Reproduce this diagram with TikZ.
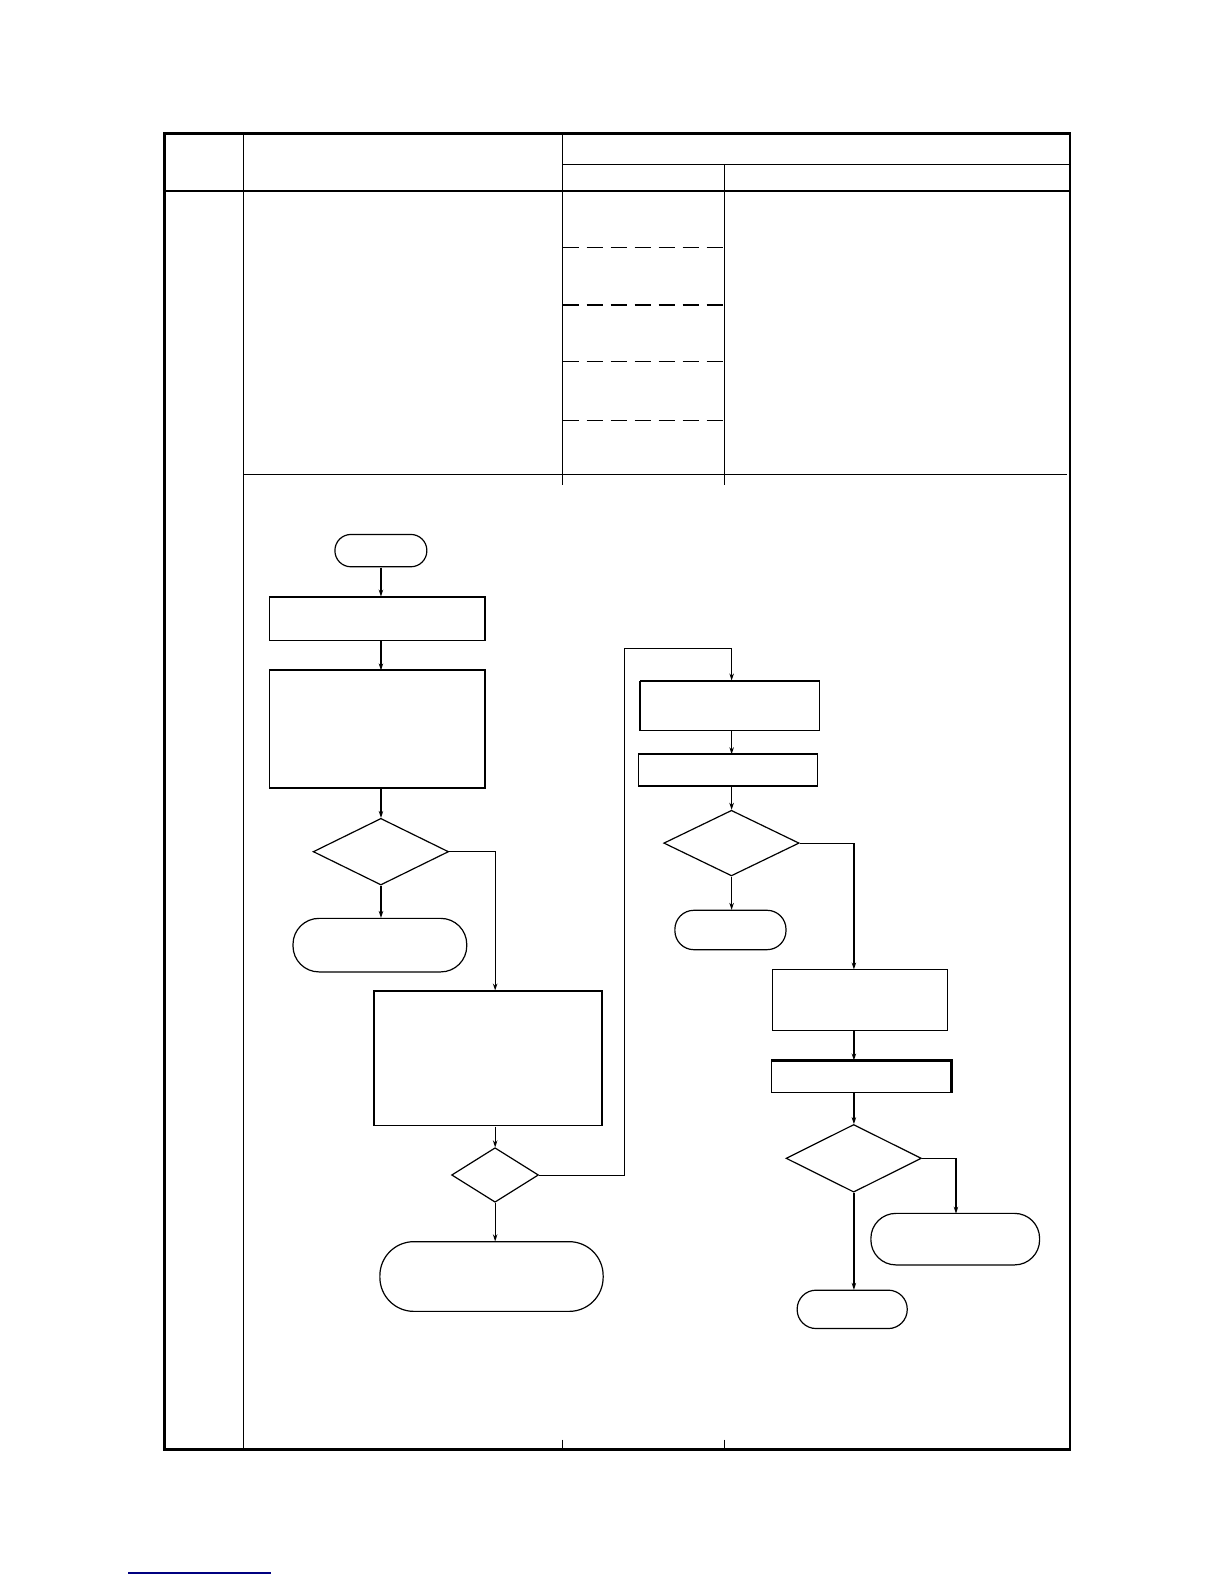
\documentclass[tikz,border=0pt]{standalone}
\usetikzlibrary{shapes.geometric,arrows.meta}
\begin{document}
\begin{tikzpicture}[x=1pt,y=-1pt,
  lw/.style={line width=1.2pt},
  procbox/.style={draw,lw,rectangle,inner sep=0pt},
  term/.style={draw,lw,rectangle,inner sep=0pt},
  decide/.style={draw,lw,diamond,inner sep=0pt},
  flow/.style={lw,-{Stealth[length=7pt,width=4.5pt]}},
  frame/.style={line width=2.6pt},
  rule/.style={line width=1.3pt},
  heavy/.style={line width=2.2pt},
  dashrule/.style={line width=1.3pt,dash pattern=on 16pt off 8pt}]
\useasboundingbox (0pt,0pt) rectangle (1224pt,-1584pt);
\fill[white] (0pt,0pt) rectangle (1224pt,-1584pt);
\begin{scope}[scale=1.0103,transform shape]
% table frame
\draw[frame] (163,132) rectangle (1059,1435);
\draw[rule] (241,132) -- (241,1435);
\draw[rule] (557,132) -- (557,470);
\draw[rule] (717,163) -- (717,470);
\draw[rule] (557,163) -- (1059,163);
\draw[rule] (163,189) -- (1059,189);
\draw[rule] (241,470) -- (1056,470);
\draw[rule] (557,470) -- (557,480);
\draw[rule] (717,470) -- (717,480);
\draw[rule] (557,1425) -- (557,1435);
\draw[rule] (717,1425) -- (717,1435);
\foreach \yy in {245,302,358,416} \draw[dashrule] (557,\yy) -- (717,\yy);
\draw[line width=1.5pt,blue!50!black] (127,1557) -- (268,1557);
% flowchart nodes
\node[term,minimum width=91pt,minimum height=32pt,rounded corners=16pt] (t1) at (377,545) {};
\node[procbox,minimum width=213pt,minimum height=43pt] (b1) at (373.5,612.5) {};
\node[procbox,minimum width=213pt,minimum height=116pt] (b2) at (373.5,722) {};
\node[decide,minimum width=134pt,minimum height=66pt] (d1) at (377,843) {};
\node[term,minimum width=172pt,minimum height=53pt,rounded corners=26pt] (t2) at (376,935.5) {};
\node[procbox,minimum width=226pt,minimum height=133pt,line width=1.6pt] (b3) at (483,1047.5) {};
\node[decide,minimum width=86pt,minimum height=54pt] (d2) at (490,1163) {};
\node[term,minimum width=221pt,minimum height=69pt,rounded corners=34pt] (t3) at (486.5,1263.5) {};
\node[procbox,minimum width=177pt,minimum height=49pt] (b4) at (722.5,698.5) {};
\node[procbox,minimum width=177pt,minimum height=31pt] (b5) at (720.5,762.5) {};
\node[decide,minimum width=134pt,minimum height=65pt] (d3) at (724,834.5) {};
\node[term,minimum width=110pt,minimum height=39pt,rounded corners=19pt] (t4) at (723,920.5) {};
\node[procbox,minimum width=173pt,minimum height=60pt] (b6) at (851.5,990) {};
\node[procbox,minimum width=177pt,minimum height=31pt] (b7) at (852.5,1065.5) {};
\node[decide,minimum width=134pt,minimum height=67pt] (d4) at (845,1146.5) {};
\node[term,minimum width=167pt,minimum height=51pt,rounded corners=25pt] (t5) at (945.5,1226.5) {};
\node[term,minimum width=109pt,minimum height=38pt,rounded corners=19pt] (t6) at (843.5,1296) {};
% heavier edges seen in the scan
\draw[heavy] (b2.north west) -- (b2.north east);
\draw[heavy] (b4.north west) -- (b4.south west);
\draw[heavy] (b5.north west) -- (b5.north east);
\draw[heavy] (b7.north west) -- (b7.north east) -- (b7.south east);
% connectors
\draw[flow] (t1.south) -- (t1.south |- b1.north);
\draw[flow] (b1.south -| t1.south) -- (t1.south |- b2.north);
\draw[flow] (b2.south -| d1.north) -- (d1.north);
\draw[flow] (d1.south) -- (d1.south |- t2.north);
\draw[flow] (d1.east) -| (d2.north |- b3.north);
\draw[flow] (b3.south -| d2.north) -- (d2.north);
\draw[flow] (d2.south) -- (d2.south |- t3.north);
\coordinate (j1) at (618,1163);
\coordinate (j2) at (618,642);
\draw[flow] (d2.east) -- (j1) -- (j2) -| (d3.north |- b4.north);
\draw[flow] (b4.south -| d3.north) -- (d3.north |- b5.north);
\draw[flow] (b5.south -| d3.north) -- (d3.north);
\draw[flow] (d3.south) -- (d3.south |- t4.north);
\draw[flow] (d3.east) -| (d4.north |- b6.north);
\draw[flow] (b6.south -| d4.north) -- (d4.north |- b7.north);
\draw[flow] (b7.south -| d4.north) -- (d4.north);
\coordinate (t5top) at (946,1201);
\draw[flow] (d4.east) -| (t5top);
\draw[flow] (d4.south) -- (d4.south |- t6.north);
\end{scope}
\end{tikzpicture}
\end{document}
